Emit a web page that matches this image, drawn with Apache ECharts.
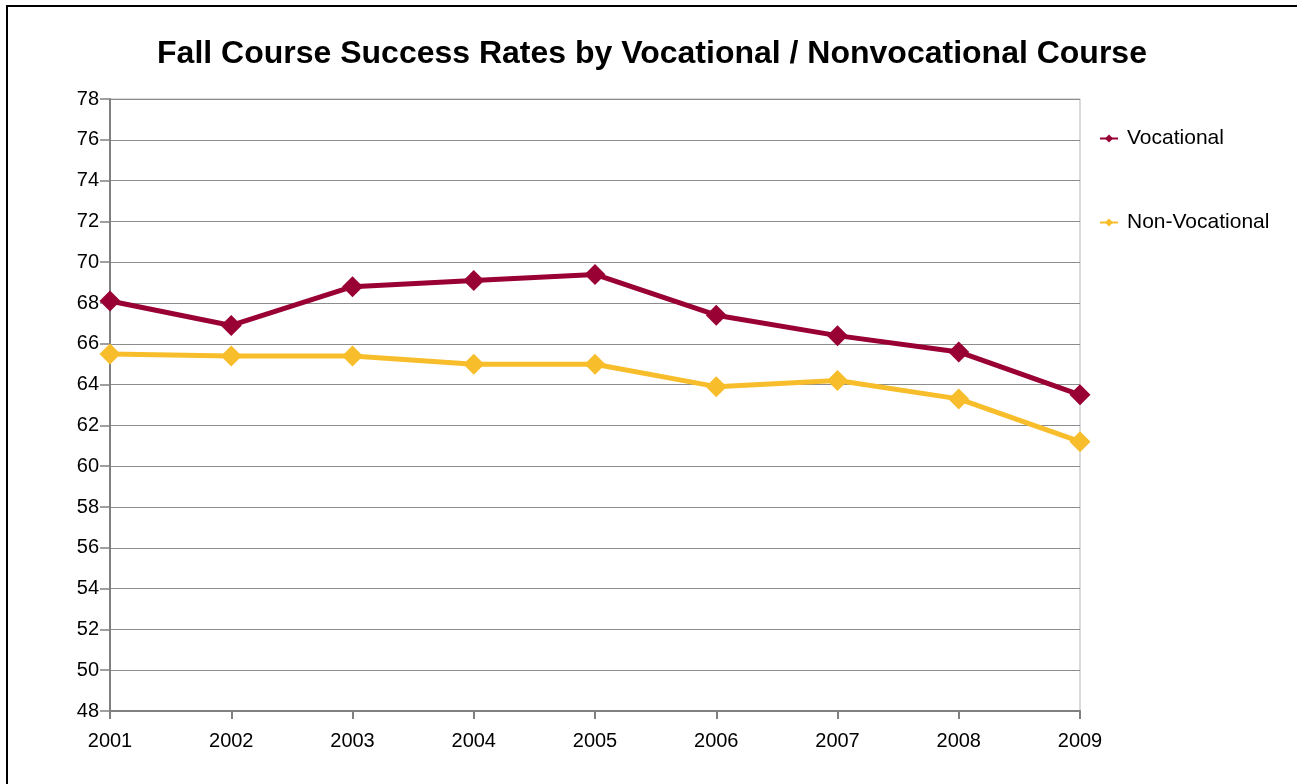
<!DOCTYPE html>
<html>
<head>
<meta charset="utf-8">
<script src="https://cdn.jsdelivr.net/npm/echarts@6/dist/echarts.min.js"></script>
<style>
  html, body { margin: 0; padding: 0; background: #fff; overflow: hidden; }
  #frame {
    position: absolute; left: 6px; top: 5px;
    width: 1400px; height: 900px;
    border: 2px solid #000; box-sizing: border-box;
  }
  #chart { position: absolute; left: 0; top: 0; width: 1297px; height: 784px; }
</style>
</head>
<body>
<div id="frame"></div>
<div id="chart"></div>
<script>
// 数据
var years = ['2001', '2002', '2003', '2004', '2005', '2006', '2007', '2008', '2009'];
var vocational = [68.1, 66.9, 68.8, 69.1, 69.4, 67.4, 66.4, 65.6, 63.5];
var nonVocational = [65.5, 65.4, 65.4, 65.0, 65.0, 63.9, 64.2, 63.3, 61.2];

var myChart = echarts.init(document.getElementById('chart'));
var font = 'Liberation Sans, Arial, sans-serif';

var option = {
  backgroundColor: 'transparent',
  title: {
    text: 'Fall Course Success Rates by Vocational / Nonvocational Course',
    left: 647,
    textAlign: 'center',
    top: 33,
    textStyle: { fontFamily: font, fontSize: 32, fontWeight: 'bold', color: '#000' }
  },
  legend: {
    orient: 'vertical',
    left: 1094,
    top: 123,
    itemGap: 63,
    itemWidth: 18,
    itemHeight: 10,
    textStyle: { fontFamily: font, fontSize: 21, color: '#000', padding: [0, 0, 0, 4] },
    data: ['Vocational', 'Non-Vocational']
  },
  grid: {
    left: 110, right: 217, top: 99, bottom: 73,
    show: true, borderColor: '#b3b3b3', borderWidth: 1
  },
  xAxis: {
    type: 'category',
    data: years,
    boundaryGap: false,
    axisLine: { lineStyle: { color: '#808080', width: 2 } },
    axisTick: { alignWithLabel: true, length: 8, lineStyle: { color: '#808080', width: 2 } },
    axisLabel: { fontFamily: font, fontSize: 20, color: '#000', margin: 20 },
    splitLine: { show: false }
  },
  yAxis: {
    type: 'value',
    min: 48, max: 78, interval: 2,
    axisLine: { show: true, lineStyle: { color: '#808080', width: 2 } },
    axisTick: { show: true, length: 10, lineStyle: { color: '#808080', width: 1.5 } },
    axisLabel: { fontFamily: font, fontSize: 20, color: '#000', margin: 11 },
    splitLine: { lineStyle: { color: '#8c8c8c', width: 1 } }
  },
  series: [
    {
      name: 'Vocational',
      type: 'line',
      data: vocational,
      color: '#990033',
      symbol: 'diamond',
      symbolSize: 21,
      lineStyle: { width: 5 },
      animation: false
    },
    {
      name: 'Non-Vocational',
      type: 'line',
      data: nonVocational,
      color: '#f8bd2a',
      symbol: 'diamond',
      symbolSize: 21,
      lineStyle: { width: 5 },
      animation: false
    }
  ]
};
myChart.setOption(option);
</script>
</body>
</html>
